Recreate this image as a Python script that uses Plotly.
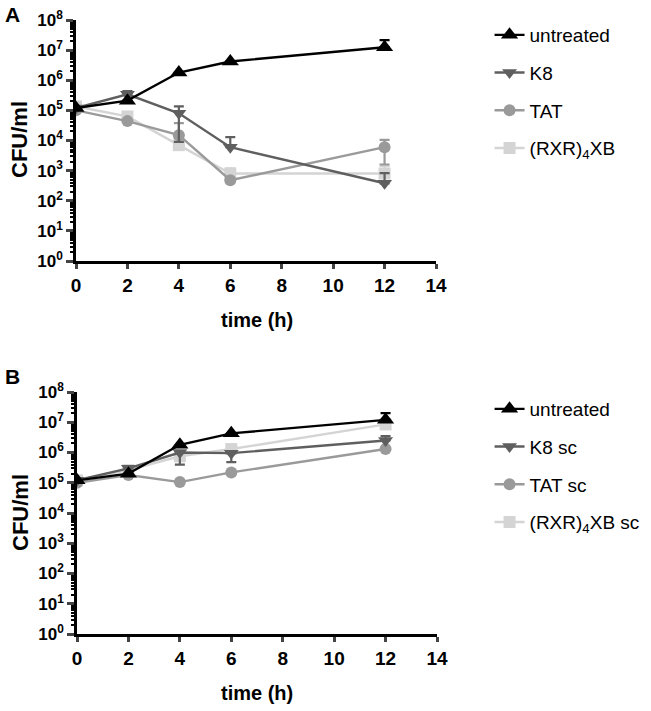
import plotly.graph_objects as go

time = [0, 2, 4, 6, 12]

# Panel A
a_untreated = [1.2e5, 2.1e5, 1.8e6, 4.2e6, 1.25e7]
a_untreated_up = [0, 0, 0, 0, 9e6]
a_k8 = [1.2e5, 3.4e5, 8.0e4, 6.0e3, 3.8e2]
a_k8_up = [0, 1.0e5, 5.5e4, 7.0e3, 4.5e2]
a_k8_dn = [0, 0, 7.1e4, 0, 0]
a_tat = [1.0e5, 4.4e4, 1.5e4, 4.8e2, 6.0e3]
a_tat_up = [0, 0, 2.3e4, 0, 4.5e3]
a_tat_dn = [0, 0, 0, 0, 4.4e3]
a_rxr = [1.35e5, 6.3e4, 7.0e3, 8.0e2, 8.0e2]
a_rxr_up = [0, 1.0e4, 0, 4.0e2, 6.0e2]

# Panel B
b_untreated = [1.2e5, 2.0e5, 1.8e6, 4.3e6, 1.2e7]
b_untreated_up = [0, 0, 0, 0, 8e6]
b_k8 = [1.2e5, 3.0e5, 1.0e6, 9.5e5, 2.5e6]
b_k8_up = [0, 0, 0, 0, 1.0e6]
b_k8_dn = [0, 0, 6.0e5, 4.7e5, 0]
b_tat = [1.0e5, 1.8e5, 1.05e5, 2.2e5, 1.3e6]
b_rxr = [1.2e5, 2.6e5, 7.5e5, 1.3e6, 8.5e6]

y_vals = [10 ** i for i in range(9)]
y_text = ["10<sup>%d</sup>" % i for i in range(9)]
minor_vals = [m * 10 ** d for d in range(8) for m in range(2, 10)]
x_ticks = [0, 2, 4, 6, 8, 10, 12, 14]

FONT = "Liberation Sans, Arial, sans-serif"
C_UN, C_K8, C_TAT, C_RXR = "#000000", "#5f5f5f", "#9a9a9a", "#d4d4d4"

fig = go.Figure()


def add(y, name, color, symbol, size, row, rank, up=None, dn=None):
    xa = "x" if row == 1 else "x2"
    ya = "y" if row == 1 else "y2"
    err = None
    if up is not None:
        err = dict(type="data", array=up, arrayminus=dn if dn is not None else [0] * len(up),
                   symmetric=False, color=color, thickness=2.2, width=5)
    fig.add_trace(go.Scatter(
        x=time, y=y, name=name, mode="lines+markers",
        line=dict(color=color, width=2.4),
        marker=dict(color=color, symbol=symbol, size=size),
        error_y=err, xaxis=xa, yaxis=ya,
        legend="legend" if row == 1 else "legend2",
        legendgroup=name + str(row), legendrank=rank,
    ))


add(a_rxr, "(RXR)<sub>4</sub>XB", C_RXR, "square", 12, 1, 4, a_rxr_up)
add(a_tat, "TAT", C_TAT, "circle", 12, 1, 3, a_tat_up, a_tat_dn)
add(a_k8, "K8", C_K8, "triangle-down", 13, 1, 2, a_k8_up, a_k8_dn)
add(a_untreated, "untreated", C_UN, "triangle-up", 15, 1, 1, a_untreated_up)

add(b_rxr, "(RXR)<sub>4</sub>XB sc", C_RXR, "square", 12, 2, 4)
add(b_tat, "TAT sc", C_TAT, "circle", 12, 2, 3)
add(b_k8, "K8 sc", C_K8, "triangle-down", 13, 2, 2, b_k8_up, b_k8_dn)
add(b_untreated, "untreated", C_UN, "triangle-up", 15, 2, 1, b_untreated_up)

xaxis_common = dict(
    range=[0, 14], tickvals=x_ticks, ticks="outside", ticklen=5, tickwidth=2.5,
    showline=True, linewidth=2.5, linecolor="black", showgrid=False, zeroline=False,
    automargin=False,
    tickfont=dict(family=FONT, size=19, color="black", weight="bold"),
)
yaxis_common = dict(
    type="log", range=[0, 8], tickvals=y_vals, ticktext=y_text, ticks="outside",
    ticklen=7, tickwidth=2.5, showline=True, linewidth=2.5, linecolor="black",
    showgrid=False, zeroline=False, automargin=False,
    minor=dict(tickvals=minor_vals, ticks="outside", ticklen=3, tickwidth=1.5, tickcolor="black", showgrid=False),
    tickfont=dict(family=FONT, size=17, color="black", weight="bold"),
)

def ann(text, x, y, size, angle=0):
    return dict(text=text, x=x / 651, y=1 - y / 711, xref="paper", yref="paper",
                xanchor="center", yanchor="middle", showarrow=False, textangle=angle,
                font=dict(family=FONT, size=size, color="black"))

fig.update_layout(
    width=651, height=711, margin=dict(l=0, r=0, t=0, b=0),
    plot_bgcolor="white", paper_bgcolor="white",
    font=dict(family=FONT, color="black"),
    xaxis=dict(domain=[76 / 651, 436 / 651], anchor="y", **xaxis_common),
    yaxis=dict(domain=[1 - 261 / 711, 1 - 20 / 711], anchor="x", **yaxis_common),
    xaxis2=dict(domain=[77 / 651, 437 / 651], anchor="y2", **xaxis_common),
    yaxis2=dict(domain=[1 - 634 / 711, 1 - 392 / 711], anchor="x2", **yaxis_common),
    legend=dict(x=0.752, y=1 - 16 / 711, xanchor="left", yanchor="top", tracegroupgap=10,
                font=dict(family=FONT, size=19, color="black"), bgcolor="rgba(0,0,0,0)"),
    legend2=dict(x=0.752, y=1 - 390 / 711, xanchor="left", yanchor="top", tracegroupgap=10,
                 font=dict(family=FONT, size=19, color="black"), bgcolor="rgba(0,0,0,0)"),
    annotations=[
        ann("<b>A</b>", 12, 14, 21),
        ann("<b>B</b>", 12, 376, 21),
        ann("<b>CFU/ml</b>", 20, 140, 22, -90),
        ann("<b>CFU/ml</b>", 20, 513, 22, -90),
        ann("<b>time (h)</b>", 257, 320, 20),
        ann("<b>time (h)</b>", 257, 693, 20),
    ],
)

fig.write_html("out.html", config={"displayModeBar": False},
               post_script="document.body.style.margin='0';")
